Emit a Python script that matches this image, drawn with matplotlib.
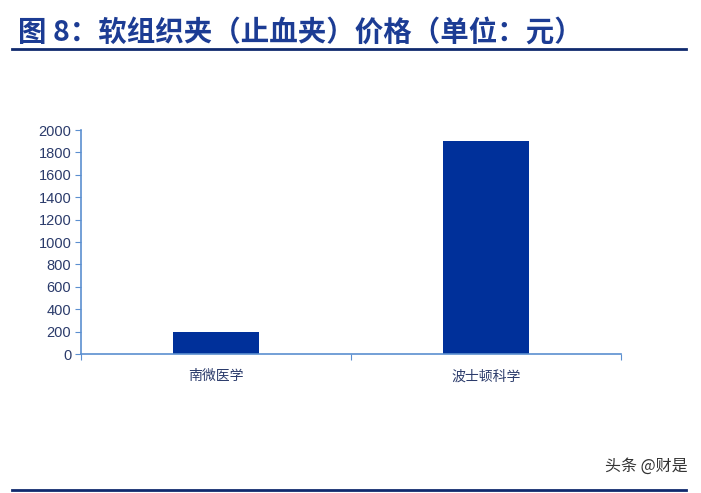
import matplotlib.pyplot as plt
from matplotlib.lines import Line2D

plt.rcParams['font.family'] = ['Noto Sans CJK SC', 'DejaVu Sans']

categories = ['南微医学', '波士顿科学']
prices = [200, 1900]
yticks = [0, 200, 400, 600, 800, 1000, 1200, 1400, 1600, 1800, 2000]

bar_color = '#00309a'
axis_color = '#5b8fd0'
text_color = '#2b3b6b'
title_color = '#1c3c94'

fig = plt.figure(figsize=(7.01, 4.93), dpi=100)
ax = fig.add_axes([81 / 701, 1 - 354 / 493, 540 / 701, 224 / 493])

pos = [i + 0.5 for i in range(len(categories))]
ax.bar(pos, prices, width=0.315, color=bar_color)

ax.set_xlim(0, len(categories))
ax.set_ylim(0, 2000)
ax.set_yticks(yticks)
ax.set_yticklabels([str(v) for v in yticks], fontfamily=['Liberation Sans', 'DejaVu Sans'])
ax.set_xticks(range(len(categories) + 1))
ax.set_xticklabels([''] * (len(categories) + 1))
ax.set_xticks(pos, minor=True)
ax.set_xticklabels(categories, minor=True)
ax.tick_params(axis='x', which='minor', length=0, pad=11, labelsize=10, labelcolor=text_color)
ax.tick_params(axis='x', which='major', length=4, color=axis_color)
ax.tick_params(axis='y', length=4, color=axis_color, labelsize=10.5, labelcolor=text_color, pad=3)

for s in ['top', 'right']:
    ax.spines[s].set_visible(False)
for s in ['left', 'bottom']:
    ax.spines[s].set_color(axis_color)
    ax.spines[s].set_linewidth(1.2)

fig.text(18 / 701, 1 - 33 / 493, '图 8：软组织夹（止血夹）价格（单位：元）',
         fontsize=20.5, fontweight='bold', color=title_color, va='center', ha='left')
fig.add_artist(Line2D([12 / 701, 686 / 701], [1 - 49 / 493, 1 - 49 / 493],
                      color='#102a6e', lw=2))
fig.add_artist(Line2D([12 / 701, 686 / 701], [1 - 490 / 493, 1 - 490 / 493],
                      color='#102a6e', lw=2))
fig.text(688 / 701, 1 - 466 / 493, '头条 @财是', fontsize=11.5, color='#333333',
         ha='right', va='center')

fig.savefig('out.png', dpi=100)
